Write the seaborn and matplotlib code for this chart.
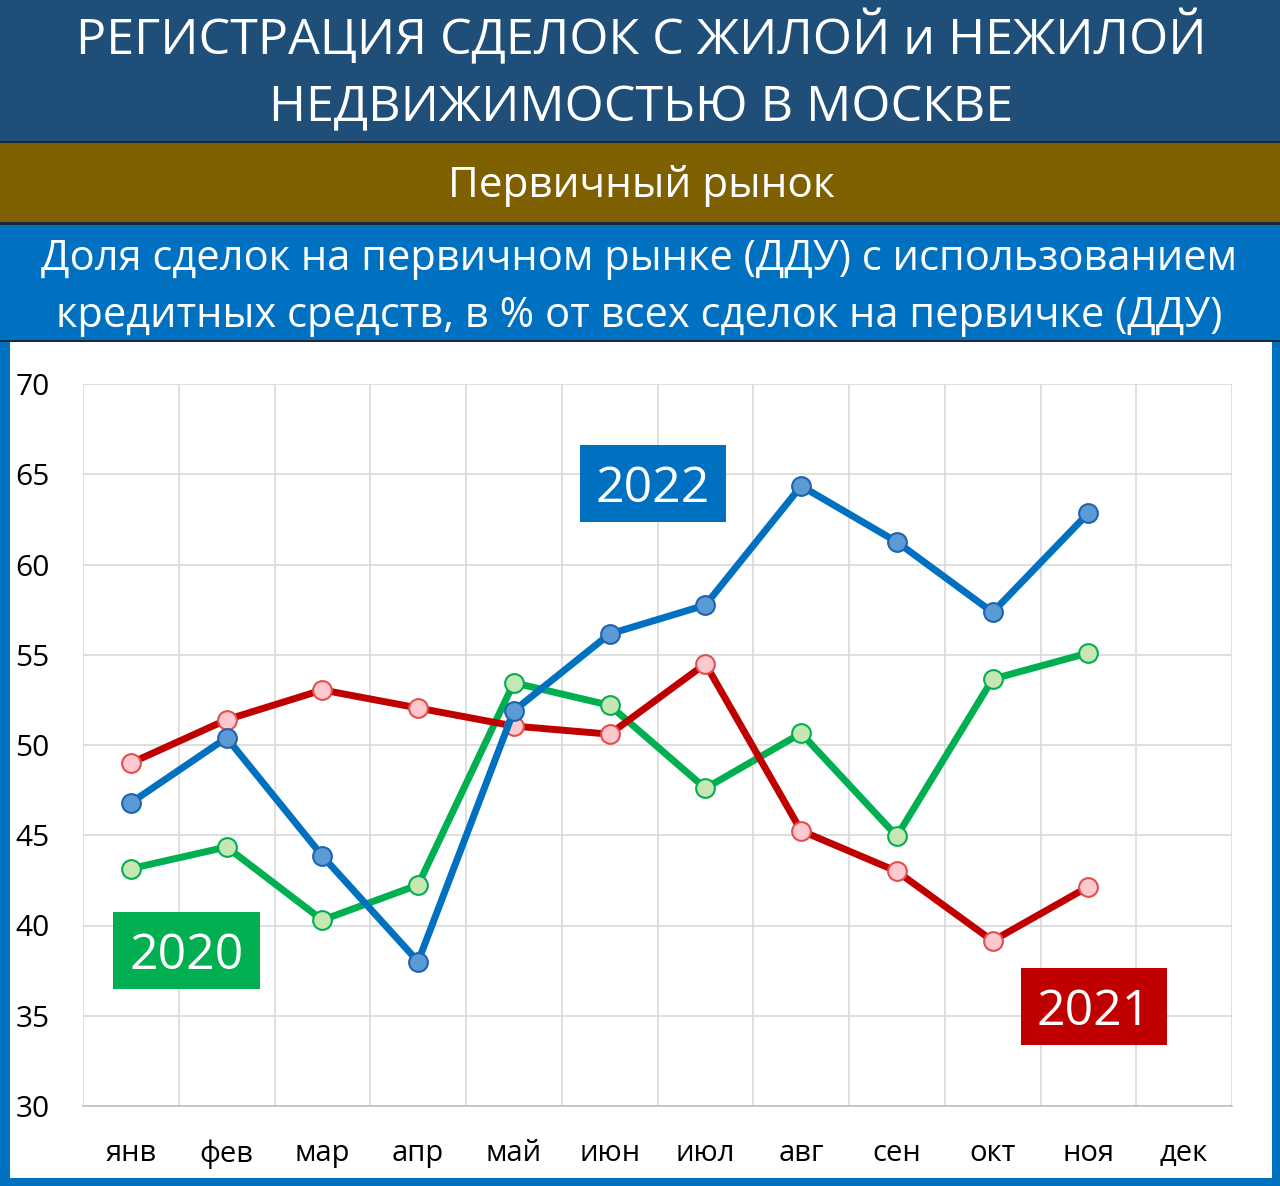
import matplotlib
matplotlib.use("Agg")
import matplotlib.pyplot as plt
from matplotlib.patches import Rectangle
from matplotlib.ticker import FixedLocator
import seaborn as sns
import pandas as pd

months = ["янв", "фев", "мар", "апр", "май", "июн", "июл", "авг", "сен", "окт", "ноя", "дек"]
y2020 = [43.15, 44.35, 40.3, 42.25, 53.45, 52.2, 47.6, 50.65, 44.95, 53.65, 55.1]
y2021 = [49.0, 51.4, 53.05, 52.05, 51.05, 50.6, 54.5, 45.25, 43.0, 39.15, 42.15]
y2022 = [46.8, 50.4, 43.85, 38.0, 51.9, 56.15, 57.75, 64.35, 61.25, 57.35, 62.85]
yticks = [30, 35, 40, 45, 50, 55, 60, 65, 70]

title1 = "РЕГИСТРАЦИЯ СДЕЛОК С ЖИЛОЙ и НЕЖИЛОЙ"
title2 = "НЕДВИЖИМОСТЬЮ В МОСКВЕ"
band2 = "Первичный рынок"
sub1 = "Доля сделок на первичном рынке (ДДУ) с использованием"
sub2 = "кредитных средств, в % от всех сделок на первичке (ДДУ)"

sns.set_theme(style="white")
plt.rcParams["font.family"] = ["Open Sans", "DejaVu Sans"]

W, H = 1280, 1186
fig = plt.figure(figsize=(W / 100, H / 100), dpi=100)
fig.patch.set_facecolor("#0070C0")

def band(y0, y1, color):
    fig.patches.append(Rectangle((0, 1 - y1 / H), 1, (y1 - y0) / H, transform=fig.transFigure,
                                 facecolor=color, edgecolor="none", zorder=-2))

band(0, 141, "#1F4E79")
band(141, 143, "#1a2a3a")
band(143, 222, "#7F6000")
band(222, 225, "#1a2a3a")
band(225, 340, "#0070C0")
band(340, 342, "#1a2a3a")
fig.patches.append(Rectangle((10 / W, 8 / H), (W - 18) / W, (1186 - 342 - 8) / H,
                             transform=fig.transFigure, facecolor="white", edgecolor="none", zorder=-2))

def ftext(x, y, s, size, color="white"):
    fig.text(x / W, 1 - y / H, s, ha="center", va="center", fontsize=size, color=color)

ftext(641, 38, title1, 36.2)
ftext(641, 109, title2, 36.2)
ftext(641, 186, band2, 30.5)
ftext(639, 259, sub1, 30)
ftext(639, 316, sub2, 30)

ax = fig.add_axes([83 / W, 1 - 1106 / H, (1232 - 83) / W, (1106 - 384) / H])
ax.set_facecolor("none")

x = list(range(len(y2020)))
series = [
    (y2020, "#00B050", "#C6E6B4", "#00B050"),
    (y2021, "#C00000", "#FFC7CE", "#E05050"),
    (y2022, "#0070C0", "#5B9BD5", "#1F63B0"),
]
for vals, col, mfc, mec in series:
    df = pd.DataFrame({"m": x, "v": vals})
    sns.lineplot(data=df, x="m", y="v", ax=ax, color=col, linewidth=5, marker="o",
                 markersize=13.5, markerfacecolor=mfc, markeredgecolor=mec, markeredgewidth=1.5,
                 legend=False)

ax.set_xlim(-0.5, 11.5)
ax.set_ylim(30, 70)
ax.xaxis.set_major_locator(FixedLocator(list(range(12))))
ax.set_xticklabels(months)
ax.xaxis.set_minor_locator(FixedLocator([i - 0.5 for i in range(13)]))
ax.set_yticks(yticks)
ax.tick_params(axis="x", which="major", length=0, labelsize=21, pad=24, colors="black")
ax.tick_params(axis="x", which="minor", length=10, width=1.2, color="#BFBFBF", direction="out")
ax.tick_params(axis="y", which="major", length=10, width=1.2, color="#BFBFBF", labelsize=21.5,
               pad=14, direction="out", labelcolor="black")
ax.grid(True, which="major", axis="y", color="#D9D9D9", linewidth=1.2)
ax.grid(True, which="minor", axis="x", color="#D9D9D9", linewidth=1.2)
ax.set_axisbelow(True)
for s in ["top", "right", "left"]:
    ax.spines[s].set_visible(False)
ax.spines["bottom"].set_color("#BFBFBF")
ax.spines["bottom"].set_linewidth(1.2)
ax.set_xlabel("")
ax.set_ylabel("")

def label_box(x0, y0, x1, y1, s, color):
    fig.patches.append(Rectangle((x0 / W, 1 - y1 / H), (x1 - x0) / W, (y1 - y0) / H,
                                 transform=fig.transFigure, facecolor=color, edgecolor="none", zorder=5))
    fig.text((x0 + x1) / 2 / W, 1 - ((y0 + y1) / 2 + 6) / H, s, ha="center", va="center",
             fontsize=36, color="white", zorder=6)

label_box(580, 445, 726, 522, "2022", "#0070C0")
label_box(113, 912, 260, 989, "2020", "#00B050")
label_box(1021, 968, 1167, 1045, "2021", "#C00000")

fig.savefig("out.png", dpi=100)
